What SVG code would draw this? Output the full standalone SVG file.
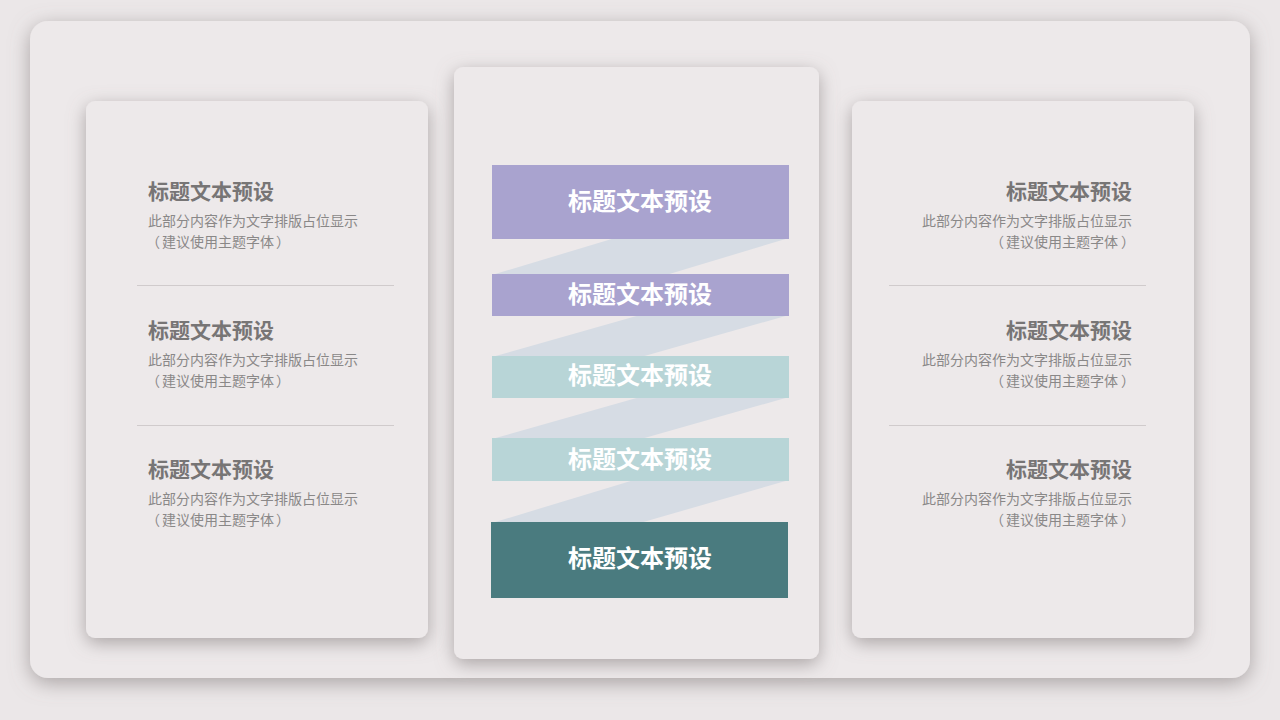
<svg xmlns="http://www.w3.org/2000/svg" width="1280" height="720" viewBox="0 0 1280 720">
<defs>
<filter id="sh" x="-20%" y="-20%" width="140%" height="140%">
<feDropShadow dx="0" dy="5" stdDeviation="9" flood-color="#7e7677" flood-opacity="0.6"/>
</filter>
<filter id="sh2" x="-10%" y="-10%" width="120%" height="125%">
<feDropShadow dx="0" dy="5" stdDeviation="10" flood-color="#7e7677" flood-opacity="0.6"/>
</filter>
</defs>
<style>
.card{fill:#ede9ea}
.t{font-family:"Noto Sans CJK SC","Noto Sans",sans-serif;font-size:21px;font-weight:700;fill:#777575}
.b{font-family:"Noto Sans CJK SC","Noto Sans",sans-serif;font-size:14px;fill:#8a8888}
.r{text-anchor:end}
.sep{stroke:#d0cbcc;stroke-width:1}
.bt{font-family:"Noto Sans CJK SC","Noto Sans",sans-serif;font-size:24px;font-weight:700;fill:#ffffff;text-anchor:middle}
.band{fill:#d6dce4}
</style>
<rect width="1280" height="720" fill="#ebe7e8"/>
<g id="panel"><rect x="30" y="21" width="1220" height="657" rx="18" class="card" filter="url(#sh2)"/></g>

<g id="left-card">
<rect x="86" y="101" width="342" height="537" rx="9" class="card" filter="url(#sh)"/>
<text class="t" x="148" y="199">标题文本预设</text>
<text class="b" x="148" y="226">此部分内容作为文字排版占位显示</text>
<text class="b" y="247"><tspan x="146">（</tspan><tspan x="162">建议使用主题字体</tspan><tspan x="276">）</tspan></text>
<line class="sep" x1="137" y1="285.5" x2="394" y2="285.5"/>
<text class="t" x="148" y="338">标题文本预设</text>
<text class="b" x="148" y="365">此部分内容作为文字排版占位显示</text>
<text class="b" y="386"><tspan x="146">（</tspan><tspan x="162">建议使用主题字体</tspan><tspan x="276">）</tspan></text>
<line class="sep" x1="137" y1="425.5" x2="394" y2="425.5"/>
<text class="t" x="148" y="477">标题文本预设</text>
<text class="b" x="148" y="504">此部分内容作为文字排版占位显示</text>
<text class="b" y="525"><tspan x="146">（</tspan><tspan x="162">建议使用主题字体</tspan><tspan x="276">）</tspan></text>
</g>

<g id="right-card">
<rect x="852" y="101" width="342" height="537" rx="9" class="card" filter="url(#sh)"/>
<text class="t r" x="1132" y="199">标题文本预设</text>
<text class="b r" x="1132" y="226">此部分内容作为文字排版占位显示</text>
<text class="b" y="247"><tspan x="990">（</tspan><tspan x="1006">建议使用主题字体</tspan><tspan x="1121">）</tspan></text>
<line class="sep" x1="889" y1="285.5" x2="1146" y2="285.5"/>
<text class="t r" x="1132" y="338">标题文本预设</text>
<text class="b r" x="1132" y="365">此部分内容作为文字排版占位显示</text>
<text class="b" y="386"><tspan x="990">（</tspan><tspan x="1006">建议使用主题字体</tspan><tspan x="1121">）</tspan></text>
<line class="sep" x1="889" y1="425.5" x2="1146" y2="425.5"/>
<text class="t r" x="1132" y="477">标题文本预设</text>
<text class="b r" x="1132" y="504">此部分内容作为文字排版占位显示</text>
<text class="b" y="525"><tspan x="990">（</tspan><tspan x="1006">建议使用主题字体</tspan><tspan x="1121">）</tspan></text>
</g>

<g id="center-card">
<rect x="454" y="67" width="365" height="592" rx="9" class="card" filter="url(#sh)"/>
</g>

<g id="connectors">
<polygon class="band" points="615,238 789,238 666,275 492,275"/>
<polygon class="band" points="640,315 789,315 641,357 492,357"/>
<polygon class="band" points="640,397 789,397 641,439 492,439"/>
<polygon class="band" points="634,480 789,480 640,523 492,523"/>
</g>

<g id="bar1"><rect x="492" y="165" width="297" height="74" fill="#a9a3cf"/><text class="bt" x="640" y="210">标题文本预设</text></g>
<g id="bar2"><rect x="492" y="274" width="297" height="42" fill="#a9a3cf"/><text class="bt" x="640" y="303">标题文本预设</text></g>
<g id="bar3"><rect x="492" y="356" width="297" height="42" fill="#b8d5d7"/><text class="bt" x="640" y="384">标题文本预设</text></g>
<g id="bar4"><rect x="492" y="438" width="297" height="43" fill="#b8d5d7"/><text class="bt" x="640" y="468">标题文本预设</text></g>
<g id="bar5"><rect x="491" y="522" width="297" height="76" fill="#4a7b7f"/><text class="bt" x="640" y="567">标题文本预设</text></g>
</svg>
